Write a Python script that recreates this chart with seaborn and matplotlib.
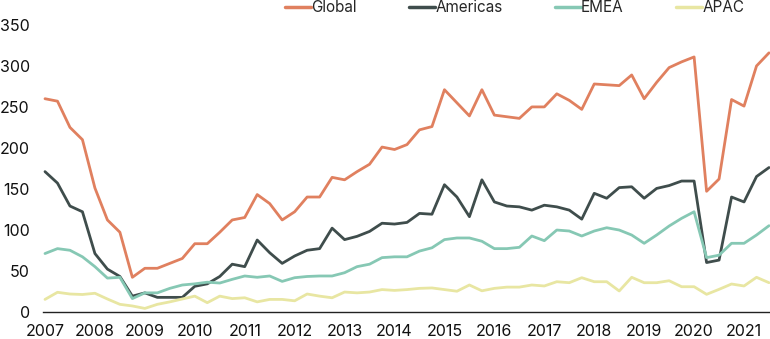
import numpy as np
import pandas as pd
import matplotlib
matplotlib.use("Agg")
import matplotlib.pyplot as plt
import seaborn as sns

# Quarterly values, 2007 Q1 - 2021 Q3
start_year = 2007
years = list(range(2007, 2022))
y_ticks = [0, 50, 100, 150, 200, 250, 300, 350]

global_vals = [
    260, 257, 225, 210, 151, 112, 97, 42,
    53, 53, 59, 65, 83, 83, 97, 112,
    115, 143, 132, 112, 122, 140, 140, 164,
    161, 171, 180, 201, 198, 204, 222, 226,
    271, 255, 239, 271, 240, 238, 236, 250,
    250, 266, 258, 247, 278, 277, 276, 289,
    260, 280, 298, 305, 311, 147, 162, 259,
    251, 300, 316,
]
americas_vals = [
    171, 157, 129, 122, 71, 52, 43, 19,
    23, 17.5, 17.5, 17.5, 31, 34, 43, 58,
    55, 87.5, 72, 59, 68, 75, 77, 102,
    88, 92, 98, 108, 107, 109, 120, 119,
    155, 140, 116, 161, 134, 129, 128, 124,
    130, 128, 124, 113, 144.5, 138.5, 151.5, 152.5,
    138.5, 150.5, 154, 159.5, 159.5, 60, 63, 140,
    134, 165, 176,
]
emea_vals = [
    71, 77, 75, 67, 55, 41, 42, 16,
    23, 23, 28.5, 32.6, 34, 36, 35, 39.5,
    43.6, 42, 43.6, 37, 41.5, 43, 43.6, 43.6,
    47.6, 55, 58, 66, 67, 67, 74, 78,
    88, 90, 90, 86, 77, 77, 78.6, 92.4,
    86.7, 99.7, 98.5, 92.4, 98.5, 102.5, 99.7, 93.6,
    83.5, 93.6, 104.6, 114, 122, 66, 69, 83.5,
    83.5, 93.6, 105,
]
apac_vals = [
    15, 23.7, 21.6, 21, 22.5, 15.5, 9, 7,
    4, 9, 12, 15.5, 19, 11, 19, 16,
    17, 12, 15, 15, 13.3, 21.6, 19, 17,
    24, 23, 24, 27, 26, 27, 28.5, 29,
    27, 25, 32.6, 25.5, 28.5, 30, 30, 32.6,
    31.4, 36.6, 35.4, 41.5, 36.6, 36.6, 25.3, 42,
    35.4, 35.4, 37.8, 30.5, 30.5, 21.2, 27.3, 33.8,
    31.4, 42, 35.4,
]

regions = ["Global", "Americas", "EMEA", "APAC"]
series = [global_vals, americas_vals, emea_vals, apac_vals]
colors = {
    "Global": "#E0805F",
    "Americas": "#3F4D4C",
    "EMEA": "#86C8B4",
    "APAC": "#E8E6A2",
}

n = len(global_vals)
t = start_year + np.arange(n) * 0.25
df = pd.concat(
    [pd.DataFrame({"t": t, "value": v, "Region": r}) for r, v in zip(regions, series)],
    ignore_index=True,
)

sns.set_theme(style="white")
plt.rcParams["font.family"] = ["Inter", "DejaVu Sans"]

fig = plt.figure(figsize=(7.7, 3.39), dpi=100)
ax = fig.add_axes([43 / 770, 1 - 311.7 / 339, 1 - 43 / 770, (311.7 - 25) / 339])

sns.lineplot(data=df, x="t", y="value", hue="Region", hue_order=regions,
             palette=colors, linewidth=2.0, ax=ax)

ax.set_xlim(start_year - 0.04, start_year + (n - 1) * 0.25 + 0.02)
ax.set_ylim(0, 350)
ax.set_xticks(years)
ax.set_xticklabels([str(y) for y in years])
ax.set_yticks(y_ticks)
ax.set_xlabel("")
ax.set_ylabel("")
ax.tick_params(axis="both", length=0, labelsize=11.5, colors="#111111")
ax.tick_params(axis="x", pad=9)
ax.tick_params(axis="y", pad=9.5)
for lab in ax.get_yticklabels():
    lab.set_horizontalalignment("right")

for side in ["top", "right", "left"]:
    ax.spines[side].set_visible(False)
ax.spines["bottom"].set_color("#222222")
ax.spines["bottom"].set_linewidth(1.0)
ax.spines["bottom"].set_position(("data", 0))

handles, labels = ax.get_legend_handles_labels()
leg = ax.legend(handles, labels, loc="upper left", bbox_to_anchor=(285 / 770, 1.0),
                bbox_transform=fig.transFigure, ncol=4, frameon=False,
                fontsize=11, handlelength=1.7, handletextpad=0.0,
                columnspacing=3.45, borderaxespad=0.0, borderpad=0.0)
for line in leg.get_lines():
    line.set_linewidth(2.5)

fig.savefig("out.png", dpi=100)
